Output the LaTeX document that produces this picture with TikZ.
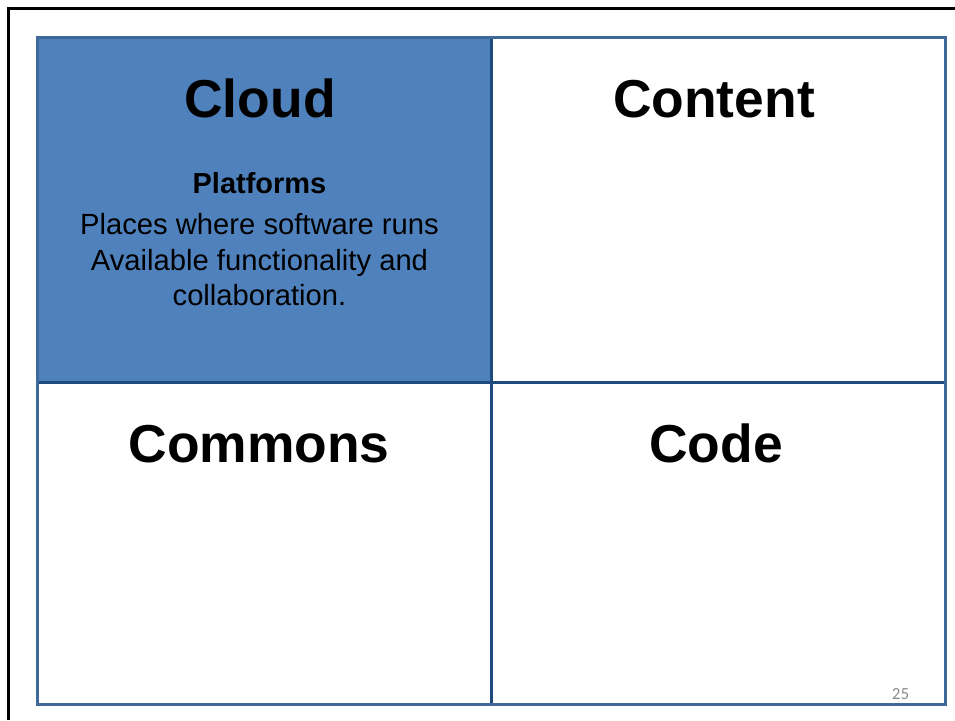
\documentclass[tikz,border=0pt]{standalone}
\usepackage{fontspec}
\setmainfont{Liberation Sans}
\newfontfamily\pagenumfont{Carlito}
\definecolor{cellblue}{HTML}{4F81BD}
\definecolor{gridouter}{HTML}{41689B}
\definecolor{gridinner}{HTML}{1F4A7E}
\definecolor{pagegray}{HTML}{8C8C8C}
\tikzset{
  title/.style={font=\fontsize{53.4}{60}\selectfont\bfseries, anchor=base, inner sep=0pt},
  subtitle/.style={font=\fontsize{29}{34}\selectfont\bfseries, anchor=base, inner sep=0pt},
  bodytext/.style={font=\fontsize{29.2}{36}\selectfont, align=center, anchor=base, inner sep=0pt},
}
\begin{document}
\begin{tikzpicture}[x=1pt,y=-1pt]
\useasboundingbox (0,0) rectangle (955,720);
\fill[white] (0,0) rectangle (955,720);
% slide frame
\draw[black, line width=2.7pt] (8.7,720) -- (8.7,8.7) -- (955,8.7);
% cells
\fill[cellblue] (37.5,37.5) rectangle (491.3,382.3);
\draw[gridinner, line width=2.6pt] (491.3,37.5) -- (491.3,704.3);
\draw[gridinner, line width=2.6pt] (37.5,382.3) -- (945.5,382.3);
\draw[gridouter, line width=2.4pt] (37.5,37.5) rectangle (945.5,704.3);
% texts
\node[title] (cloud) at (260,117) {Cloud};
\node[title] (content) at (714,117) {Content};
\node[title] (commons) at (259,462) {Commons};
\node[title] (code) at (716,462) {Code};
\node[subtitle] (platforms) at (259.5,193) {Platforms};
\node[bodytext] (l1) at (259.5,234) {Places where software runs};
\node[bodytext] (l2) at (259.5,270) {Available functionality and};
\node[bodytext] (l3) at (259.5,305.7) {collaboration.};
\node[font=\pagenumfont\fontsize{17}{19}\selectfont, text=pagegray, anchor=base, inner sep=0pt] (pnum) at (900.5,699.3) {25};
\end{tikzpicture}
\end{document}
